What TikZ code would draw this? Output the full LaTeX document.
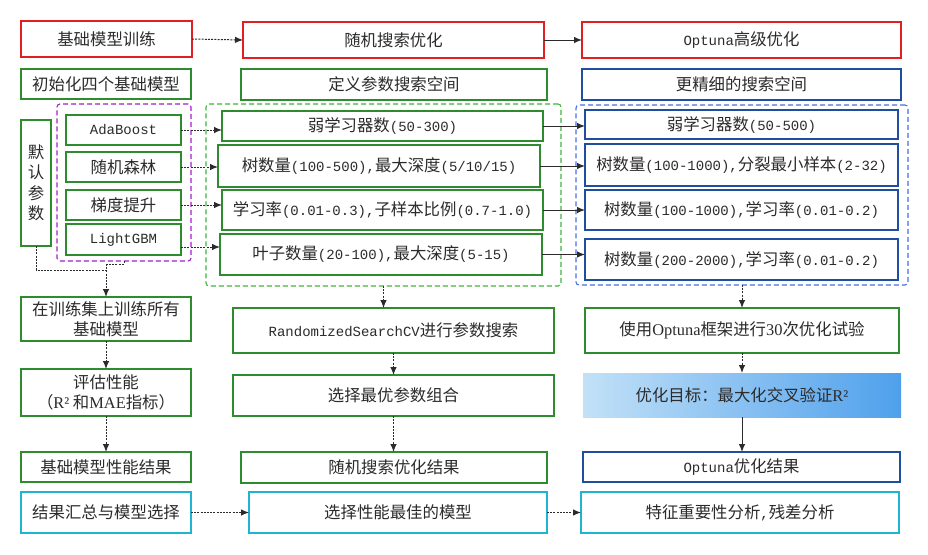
\documentclass[tikz,border=0pt]{standalone}
\usepackage{fontspec}
\setmainfont{Noto Sans CJK SC}
\newfontfamily\monof{Liberation Mono}
\newfontfamily\serf{Liberation Serif}
\usetikzlibrary{arrows.meta,calc}
\newcommand\mn[1]{{\monof\fontsize{14}{16}\selectfont #1}}
\newcommand\sr[1]{{\serf #1}}
\definecolor{cred}{HTML}{E02020}
\definecolor{cgreen}{HTML}{2E8B2E}
\definecolor{clgreen}{HTML}{3CB83C}
\definecolor{cdblue}{HTML}{1F4EA0}
\definecolor{clblue}{HTML}{4A6FE3}
\definecolor{ccyan}{HTML}{1EB4D2}
\definecolor{cpurp}{HTML}{A020C8}
\definecolor{ctxt}{HTML}{2B2B2B}
\definecolor{carr}{HTML}{2B2B2B}
\definecolor{gradL}{HTML}{C2E1F7}
\definecolor{gradR}{HTML}{4FA0EC}
\begin{document}
\begin{tikzpicture}[x=1pt,y=-1pt,
  box/.style={draw, fill=white, line width=1.2pt, inner sep=0pt, outer sep=0pt, align=center, text=ctxt, font=\fontsize{16.4}{20.5}\selectfont},
  redb/.style={box, draw=cred},
  grnb/.style={box, draw=cgreen},
  blub/.style={box, draw=cdblue},
  cynb/.style={box, draw=ccyan},
  cont/.style={draw, line width=1.1pt, dash pattern=on 5pt off 3pt, rounded corners=3pt, inner sep=0pt, outer sep=0pt},
  arr/.style={-{Latex[length=8pt,width=6.5pt]}, line width=1pt, draw=carr},
  dsh/.style={dash pattern=on 2pt off 1.2pt}
]
\useasboundingbox[fill=white] (0,0) rectangle (928,554);

% containers
\node[cont, draw=cpurp, minimum width=134pt, minimum height=157pt] (pur) at (124,182.5) {};
\node[cont, draw=clgreen, minimum width=355pt, minimum height=182pt] (gcont) at (383.5,195) {};
\node[cont, draw=clblue, minimum width=332pt, minimum height=180pt] (bcont) at (742,195) {};

% row 1
\node[redb, minimum width=171pt, minimum height=36pt] (t1) at (106.5,39) {基础模型训练};
\node[redb, minimum width=301pt, minimum height=36pt] (t2) at (393.5,40) {随机搜索优化};
\node[redb, minimum width=319pt, minimum height=36pt] (t3) at (741.5,40) {\mn{Optuna}高级优化};

% row 2
\node[grnb, minimum width=170pt, minimum height=30pt] (s1) at (106,84) {初始化四个基础模型};
\node[grnb, minimum width=306pt, minimum height=31pt] (s2) at (394,84.5) {定义参数搜索空间};
\node[blub, minimum width=319pt, minimum height=31pt] (s3) at (741.5,84.5) {更精细的搜索空间};

% default params
\node[grnb, minimum width=30pt, minimum height=126pt] (def) at (36,183) {默\\认\\参\\数};

% models
\node[grnb, minimum width=115pt, minimum height=30pt] (m1) at (123.5,130) {\mn{AdaBoost}};
\node[grnb, minimum width=115pt, minimum height=30pt] (m2) at (123.5,167) {随机森林};
\node[grnb, minimum width=115pt, minimum height=30pt] (m3) at (123.5,205) {梯度提升};
\node[grnb, minimum width=115pt, minimum height=31pt] (m4) at (123.5,239.5) {\mn{LightGBM}};

% mid params
\node[grnb, minimum width=321pt, minimum height=30pt] (p1) at (382.5,126) {弱学习器数\mn{(50-300)}};
\node[grnb, minimum width=322pt, minimum height=42pt] (p2) at (379,166) {树数量\mn{(100-500),}最大深度\mn{(5/10/15)}};
\node[grnb, minimum width=321pt, minimum height=40pt] (p3) at (382.5,210) {学习率\mn{(0.01-0.3),}子样本比例\mn{(0.7-1.0)}};
\node[grnb, minimum width=322pt, minimum height=41pt] (p4) at (381,254.5) {叶子数量\mn{(20-100),}最大深度\mn{(5-15)}};

% right params
\node[blub, minimum width=313pt, minimum height=29pt] (q1) at (741.5,124.5) {弱学习器数\mn{(50-500)}};
\node[blub, minimum width=313pt, minimum height=42pt] (q2) at (741.5,165) {树数量\mn{(100-1000),}分裂最小样本\mn{(2-32)}};
\node[blub, minimum width=313pt, minimum height=40pt] (q3) at (741.5,210) {树数量\mn{(100-1000),}学习率\mn{(0.01-0.2)}};
\node[blub, minimum width=313pt, minimum height=41pt] (q4) at (741.5,259.5) {树数量\mn{(200-2000),}学习率\mn{(0.01-0.2)}};

% left lower
\node[grnb, minimum width=170pt, minimum height=44pt] (a1) at (106,319) {在训练集上训练所有\\基础模型};
\node[grnb, minimum width=170pt, minimum height=47pt] (a2) at (106,392.5) {评估性能\\（\sr{R²} 和\sr{MAE}指标）};
\node[grnb, minimum width=170pt, minimum height=30pt] (a3) at (106,467) {基础模型性能结果};
\node[cynb, minimum width=170pt, minimum height=41pt] (a4) at (106,512.5) {结果汇总与模型选择};

% mid lower
\node[grnb, minimum width=321pt, minimum height=45pt] (b1) at (393.5,330.5) {\mn{RandomizedSearchCV}进行参数搜索};
\node[grnb, minimum width=321pt, minimum height=41pt] (b2) at (393.5,395.5) {选择最优参数组合};
\node[grnb, minimum width=306pt, minimum height=31pt] (b3) at (394,467.5) {随机搜索优化结果};
\node[cynb, minimum width=298pt, minimum height=41pt] (b4) at (398,512.5) {选择性能最佳的模型};

% right lower
\node[grnb, minimum width=314pt, minimum height=45pt] (c1) at (742,330.5) {使用\sr{Optuna}框架进行\sr{30}次优化试验};
\node[box, draw=none, left color=gradL, right color=gradR, minimum width=318pt, minimum height=44pt] (c2) at (742,395) {优化目标：最大化交叉验证\sr{R²}};
\node[blub, minimum width=317pt, minimum height=30pt] (c3) at (741.5,467) {\mn{Optuna}优化结果};
\node[cynb, minimum width=318pt, minimum height=41pt] (c4) at (740,512.5) {特征重要性分析\mn{,}残差分析};

% arrows top row
\draw[arr, dsh] (t1.east) -- (t2.west);
\draw[arr] (t2.east) -- (t3.west);

% models to params
\draw[arr, dsh] (m1.east) -- (m1.east -| p1.west);
\draw[arr, dsh] (m2.east) -- (m2.east -| p2.west);
\draw[arr, dsh] (m3.east) -- (m3.east -| p3.west);
\draw[arr, dsh] ([yshift=-7.5pt]m4.east) -- ([yshift=-7.5pt]m4.east -| p4.west);

% mid params to right params
\draw[arr] (p1.east) -- (p1.east -| q1.west);
\draw[arr] (p2.east) -- (p2.east -| q2.west);
\draw[arr] (p3.east) -- (p3.east -| q3.west);
\draw[arr] (p4.east) -- (p4.east -| q4.west);

% merge to a1
\coordinate (j1) at (106,264);
\coordinate (j2) at (106,270);
\draw[line width=1pt, draw=carr, dsh] (def.south) |- (j2);
\draw[line width=1pt, draw=carr, dsh] (pur.south) |- (j1);
\draw[arr, dsh] (j1) -- (a1.north);

% left column
\draw[arr, dsh] (a1.south) -- (a2.north);
\draw[arr, dsh] (a2.south) -- (a3.north);

% mid column
\draw[arr, dsh] (gcont.south) -- (gcont.south |- b1.north);
\draw[arr, dsh] (b1.south) -- (b2.north);
\draw[arr, dsh] (b2.south) -- (b2.south |- b3.north);

% right column
\draw[arr, dsh] (bcont.south) -- (bcont.south |- c1.north);
\draw[arr, dsh] (c1.south) -- (c1.south |- c2.north);
\draw[arr] (c2.south) -- (c2.south |- c3.north);

% bottom row
\draw[arr, dsh] (a4.east) -- (b4.west);
\draw[arr, dsh] (b4.east) -- (c4.west);
\end{tikzpicture}
\end{document}
